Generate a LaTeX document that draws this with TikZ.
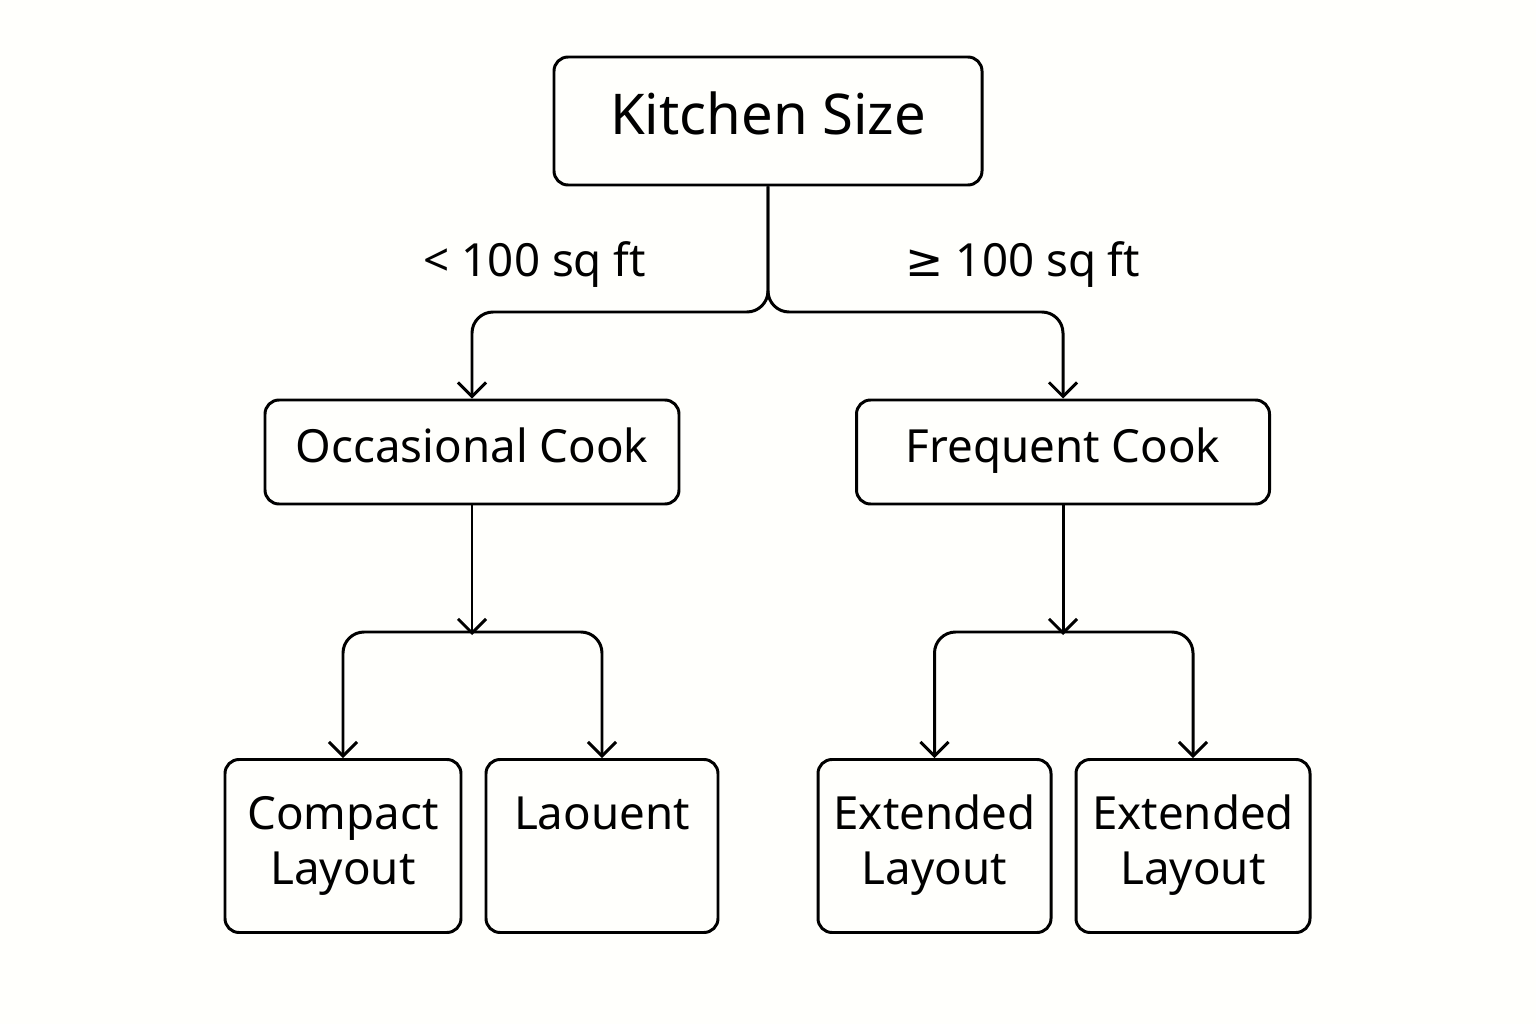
\documentclass[tikz,border=0pt]{standalone}
\usepackage{fontspec}
\setmainfont{Noto Sans}
\newfontfamily\symfont{DejaVu Sans}
\usetikzlibrary{arrows.meta}
\begin{document}
\begin{tikzpicture}[
  x=0.02cm, y=-0.02cm,
  every node/.style={font=\fontsize{26}{31}\selectfont},
  box/.style={draw, line width=1.7pt, rounded corners=8pt, align=center, inner sep=0pt},
  link/.style={line width=1.7pt, rounded corners=12pt},
  arr/.style={link, -{Straight Barb[length=8pt,width=16pt,line width=1.7pt]}}
  ]
\useasboundingbox[fill=white!99!yellow] (0,0) rectangle (1536,1024);

% Root node
\node[box, minimum width=428*0.02cm, minimum height=128*0.02cm, font=\fontsize{32}{38}\selectfont] (kitchen) at (768,121) {\strut Kitchen Size};
% Level 1
\node[box, minimum width=414*0.02cm, minimum height=104*0.02cm] (occ) at (472,452) {\strut Occasional Cook};
\node[box, minimum width=413*0.02cm, minimum height=104*0.02cm] (freq) at (1063,452) {\strut Frequent Cook};
% Level 2
\node[box, minimum width=236*0.02cm, minimum height=173*0.02cm] (compact) at (343,846) {\strut Compact\\\strut Layout};
\node[box, minimum width=232*0.02cm, minimum height=173*0.02cm] (laouent) at (602,846) {\strut Laouent\\\strut};
\node[box, minimum width=233*0.02cm, minimum height=173*0.02cm] (ext1) at (934.5,846) {\strut Extended\\\strut Layout};
\node[box, minimum width=234*0.02cm, minimum height=173*0.02cm] (ext2) at (1193,846) {\strut Extended\\\strut Layout};

% Branch labels
\node (small) at (535,265) {< 100 sq ft};
\node (large) at (1023,265) {{\symfont ≥} 100 sq ft};

% Split under the root
\coordinate (split) at (768,312);
\draw[arr] (kitchen.south) -- (split) -| (occ.north);
\draw[arr] (kitchen.south) -- (split) -| (freq.north);

% Left subtree
\coordinate (lsplit) at (472,632);
\draw[arr] (occ.south) -- ([yshift=-0.06cm]lsplit);
\draw[arr] (lsplit) -| (compact.north);
\draw[arr] (lsplit) -| (laouent.north);

% Right subtree
\coordinate (rsplit) at (1063,632);
\draw[arr] (freq.south) -- ([yshift=-0.06cm]rsplit);
\draw[arr] (rsplit) -| (ext1.north);
\draw[arr] (rsplit) -| (ext2.north);

\end{tikzpicture}
\end{document}
